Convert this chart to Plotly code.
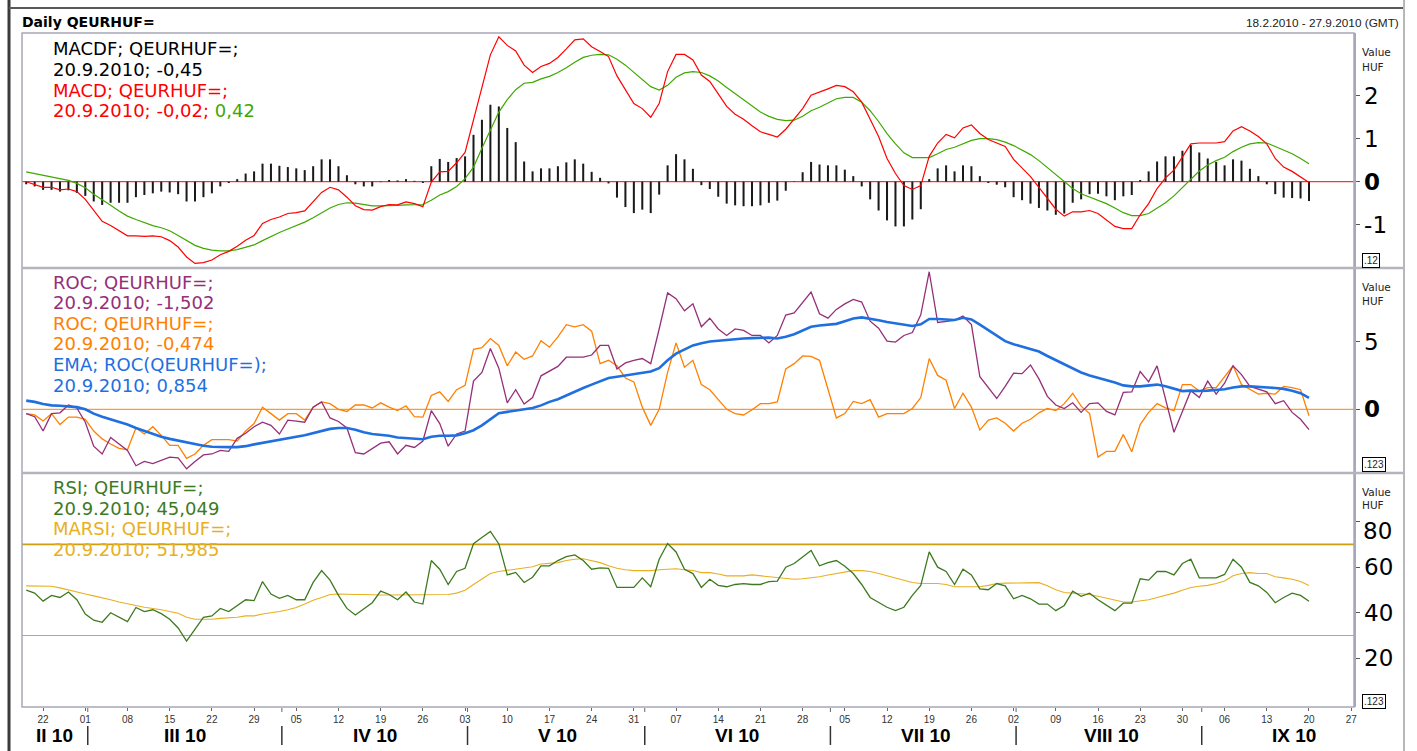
import pandas as pd
import plotly.graph_objects as go

# ---------------- data (trading days 18.2.2010 - 20.9.2010) ----------------
dates = pd.bdate_range("2010-02-18", "2010-09-20")

macdf = [-0.06, -0.11, -0.19, -0.19, -0.23, -0.20, -0.26, -0.33, -0.46, -0.54,
         -0.49, -0.49, -0.49, -0.36, -0.31, -0.27, -0.23, -0.25, -0.29, -0.46,
         -0.46, -0.36, -0.27, -0.11, -0.03, 0.06, 0.19, 0.24, 0.42, 0.42,
         0.37, 0.34, 0.31, 0.27, 0.36, 0.52, 0.52, 0.36, 0.15, -0.06,
         -0.11, -0.11, -0.01, 0.04, 0.03, 0.06, 0.02, -0.03, 0.36, 0.53,
         0.46, 0.55, 0.59, 1.09, 1.44, 1.79, 1.75, 1.25, 0.92, 0.47,
         0.24, 0.31, 0.31, 0.36, 0.45, 0.52, 0.42, 0.23, 0.09, -0.04,
         -0.37, -0.59, -0.73, -0.65, -0.73, -0.30, 0.38, 0.64, 0.52, 0.30,
         -0.08, -0.17, -0.35, -0.51, -0.55, -0.57, -0.57, -0.55, -0.49, -0.44,
         -0.21, 0.01, 0.22, 0.46, 0.40, 0.38, 0.38, 0.28, 0.13, -0.11,
         -0.41, -0.67, -0.90, -1.04, -1.04, -0.88, -0.64, 0.06, 0.31, 0.38,
         0.24, 0.38, 0.36, 0.13, -0.03, -0.07, -0.13, -0.36, -0.43, -0.51,
         -0.61, -0.67, -0.77, -0.74, -0.49, -0.41, -0.29, -0.28, -0.34, -0.43,
         -0.34, -0.31, 0.04, 0.24, 0.47, 0.59, 0.59, 0.72, 0.85, 0.68,
         0.54, 0.46, 0.38, 0.52, 0.49, 0.30, 0.13, -0.06, -0.29, -0.37,
         -0.38, -0.39, -0.45]

macd = [0.00, -0.06, -0.13, -0.13, -0.19, -0.17, -0.23, -0.41, -0.67, -0.92,
        -1.02, -1.14, -1.26, -1.26, -1.27, -1.26, -1.28, -1.37, -1.52, -1.75,
        -1.90, -1.88, -1.82, -1.70, -1.62, -1.50, -1.36, -1.25, -0.97, -0.88,
        -0.82, -0.74, -0.72, -0.68, -0.47, -0.25, -0.13, -0.19, -0.36, -0.56,
        -0.65, -0.66, -0.58, -0.53, -0.54, -0.47, -0.51, -0.58, -0.01, 0.23,
        0.24, 0.44, 0.68, 1.43, 2.19, 2.95, 3.37, 3.17, 3.04, 2.71,
        2.54, 2.68, 2.75, 2.89, 3.09, 3.30, 3.32, 3.14, 3.03, 2.91,
        2.46, 2.13, 1.82, 1.70, 1.50, 1.82, 2.56, 2.96, 2.96, 2.83,
        2.48, 2.33, 2.03, 1.75, 1.57, 1.45, 1.30, 1.16, 1.10, 1.04,
        1.22, 1.45, 1.70, 2.01, 2.08, 2.16, 2.24, 2.21, 2.09, 1.85,
        1.45, 1.05, 0.54, 0.19, -0.09, -0.18, -0.09, 0.59, 0.90, 1.10,
        1.02, 1.25, 1.32, 1.12, 0.98, 0.90, 0.82, 0.52, 0.31, 0.12,
        -0.13, -0.38, -0.64, -0.80, -0.70, -0.70, -0.67, -0.74, -0.89, -1.04,
        -1.09, -1.09, -0.77, -0.51, -0.16, 0.09, 0.27, 0.57, 0.88, 0.90,
        0.90, 0.90, 0.93, 1.18, 1.28, 1.18, 1.05, 0.88, 0.54, 0.34,
        0.24, 0.12, -0.02]

signal = [0.23, 0.19, 0.15, 0.11, 0.07, 0.03, -0.04, -0.14, -0.29, -0.43,
          -0.55, -0.68, -0.80, -0.88, -0.95, -1.02, -1.07, -1.14, -1.25, -1.37,
          -1.48, -1.55, -1.59, -1.61, -1.61, -1.58, -1.53, -1.47, -1.37, -1.27,
          -1.18, -1.10, -1.02, -0.94, -0.84, -0.72, -0.61, -0.53, -0.49, -0.50,
          -0.53, -0.56, -0.56, -0.56, -0.55, -0.54, -0.54, -0.53, -0.43, -0.31,
          -0.23, -0.11, 0.07, 0.34, 0.78, 1.22, 1.62, 1.91, 2.14, 2.29,
          2.31, 2.39, 2.45, 2.54, 2.65, 2.78, 2.89, 2.94, 2.96, 2.95,
          2.85, 2.71, 2.54, 2.38, 2.21, 2.13, 2.24, 2.43, 2.53, 2.56,
          2.54, 2.46, 2.34, 2.19, 2.05, 1.91, 1.76, 1.62, 1.52, 1.45,
          1.42, 1.43, 1.52, 1.65, 1.73, 1.83, 1.93, 1.96, 1.96, 1.85,
          1.65, 1.40, 1.12, 0.88, 0.67, 0.56, 0.56, 0.56, 0.65, 0.75,
          0.80, 0.88, 0.96, 1.00, 1.00, 0.98, 0.92, 0.84, 0.74, 0.63,
          0.49, 0.33, 0.15, -0.01, -0.16, -0.28, -0.36, -0.43, -0.51, -0.61,
          -0.72, -0.79, -0.79, -0.74, -0.61, -0.49, -0.33, -0.13, 0.07, 0.25,
          0.39, 0.49, 0.57, 0.70, 0.80, 0.88, 0.91, 0.90, 0.82, 0.73,
          0.65, 0.54, 0.42]

roc_a = [-0.32, -0.55, -1.61, -0.32, -0.26, 0.32, 0.10, -0.96, -2.73, -3.31,
         -2.09, -2.57, -3.05, -4.18, -3.86, -4.02, -3.79, -3.54, -3.60, -4.41,
         -3.86, -3.38, -3.31, -3.05, -3.12, -2.15, -1.77, -1.29, -0.96, -1.19,
         -1.83, -0.80, -0.87, -0.96, 0.16, 0.55, -0.64, -0.90, -1.38, -3.22,
         -3.31, -2.89, -2.51, -2.41, -3.31, -2.67, -2.83, -2.35, -0.10, -1.06,
         -2.73, -1.83, -1.61, 2.09, 2.73, 4.50, 3.05, 0.48, 1.45, 0.39,
         0.87, 2.48, 2.83, 3.18, 3.86, 3.86, 3.86, 4.02, 4.73, 4.73,
         2.99, 3.44, 3.63, 3.76, 3.38, 5.95, 8.62, 8.20, 7.30, 7.81,
         6.11, 6.75, 5.95, 5.47, 5.95, 5.85, 5.47, 5.47, 4.92, 5.47,
         6.98, 7.14, 7.94, 8.68, 7.07, 6.75, 7.40, 7.81, 8.14, 7.94,
         6.53, 6.01, 5.05, 4.98, 5.47, 5.69, 7.00, 10.19, 6.43, 6.50,
         6.59, 6.91, 6.27, 2.41, 1.61, 0.80, 1.70, 2.67, 2.64, 3.28,
         2.25, 0.96, 0.32, 0.06, 0.48, -0.23, 0.42, 0.48, -0.16, -0.42,
         1.25, 1.29, 2.80, 2.03, 3.22, 0.80, -1.70, -0.16, 1.38, 0.87,
         2.09, 1.13, 1.93, 3.22, 2.57, 1.70, 1.51, 1.29, 0.42, 0.64,
         -0.23, -0.74, -1.502]

roc_b = [-0.32, -0.42, -0.87, -0.32, -1.13, -0.58, -0.58, -0.74, -1.61, -2.19,
         -2.57, -2.89, -2.99, -1.38, -1.83, -1.29, -1.93, -2.67, -2.67, -3.63,
         -3.31, -2.67, -2.25, -2.25, -2.25, -2.35, -1.61, -1.06, 0.16, -0.32,
         -0.80, -0.32, -0.32, -0.80, 0.16, 0.55, 0.42, 0.00, -0.16, 0.32,
         0.32, 0.10, 0.48, 0.16, -0.10, 0.26, -0.55, -0.58, 1.03, 1.29,
         0.58, 1.45, 1.77, 4.44, 4.57, 5.24, 4.73, 3.22, 4.24, 3.70,
         3.95, 5.08, 4.60, 5.37, 6.27, 6.11, 6.27, 5.79, 3.38, 3.63,
         3.22, 2.32, 2.03, 0.16, -1.19, 0.00, 2.73, 4.92, 3.12, 3.63,
         1.83, 1.45, 0.74, 0.00, -0.32, -0.42, -0.03, 0.42, 0.42, 0.55,
         2.99, 3.38, 3.95, 3.92, 3.63, 1.45, -0.64, -0.32, 0.58, 0.42,
         0.71, -0.58, -0.32, -0.32, -0.32, 0.06, 0.87, 3.76, 2.51, 2.15,
         0.06, 1.19, 0.16, -1.54, -0.80, -0.64, -1.03, -1.61, -1.03, -0.74,
         -0.26, 0.06, -0.10, 0.42, 1.19, 0.23, -0.32, -3.54, -3.12, -3.12,
         -1.86, -3.15, -1.13, -0.23, 0.42, 0.10, -0.10, 1.83, 1.83, 1.35,
         1.61, 1.61, 2.41, 3.22, 1.83, 1.51, 1.13, 1.19, 1.13, 1.70,
         1.61, 1.45, -0.474]

ema_roc = [0.64, 0.55, 0.39, 0.29, 0.26, 0.23, 0.16, 0.00, -0.32, -0.55,
           -0.74, -0.90, -1.13, -1.38, -1.61, -1.83, -2.03, -2.19, -2.32, -2.48,
           -2.60, -2.70, -2.77, -2.80, -2.80, -2.80, -2.73, -2.60, -2.48, -2.35,
           -2.25, -2.15, -2.03, -1.93, -1.77, -1.58, -1.45, -1.38, -1.38, -1.51,
           -1.70, -1.83, -1.90, -1.96, -2.09, -2.12, -2.15, -2.22, -2.03, -1.96,
           -1.96, -1.93, -1.77, -1.55, -1.19, -0.71, -0.29, -0.19, -0.10, 0.00,
           0.10, 0.29, 0.55, 0.74, 1.03, 1.35, 1.58, 1.83, 2.09, 2.32,
           2.41, 2.51, 2.57, 2.67, 2.80, 3.05, 3.63, 4.12, 4.41, 4.73,
           4.89, 5.02, 5.08, 5.14, 5.21, 5.24, 5.27, 5.31, 5.31, 5.24,
           5.37, 5.56, 5.85, 6.11, 6.21, 6.27, 6.33, 6.53, 6.72, 6.81,
           6.72, 6.59, 6.46, 6.37, 6.24, 6.17, 6.30, 6.69, 6.69, 6.66,
           6.62, 6.78, 6.66, 6.27, 5.88, 5.47, 5.05, 4.82, 4.63, 4.47,
           4.28, 3.95, 3.63, 3.31, 3.02, 2.73, 2.51, 2.35, 2.19, 1.99,
           1.77, 1.70, 1.70, 1.77, 1.83, 1.70, 1.51, 1.35, 1.38, 1.35,
           1.38, 1.45, 1.48, 1.61, 1.70, 1.70, 1.67, 1.61, 1.58, 1.51,
           1.38, 1.19, 0.854]

rsi = [49.9, 48.6, 45.1, 47.6, 46.7, 49.1, 45.7, 39.4, 36.7, 35.8,
       40.0, 37.9, 36.1, 42.3, 40.5, 41.3, 39.6, 37.1, 33.3, 27.5,
       32.7, 38.0, 38.6, 41.9, 40.5, 43.2, 45.7, 45.3, 53.7, 48.2,
       46.3, 47.6, 45.7, 45.7, 53.3, 58.5, 54.3, 47.6, 41.9, 39.0,
       41.9, 44.4, 49.5, 48.0, 45.7, 49.1, 44.7, 43.8, 62.9, 59.1,
       52.4, 58.1, 59.5, 70.3, 73.0, 75.7, 70.2, 56.6, 57.7, 53.3,
       55.6, 60.6, 60.6, 62.9, 64.6, 65.4, 62.9, 59.1, 59.7, 59.5,
       51.1, 51.1, 51.1, 55.3, 51.4, 63.5, 70.4, 66.7, 59.1, 57.2,
       51.1, 54.7, 52.0, 51.4, 52.4, 52.8, 52.4, 52.4, 53.7, 53.9,
       60.0, 61.6, 64.4, 67.3, 60.6, 62.0, 62.9, 60.4, 57.2, 52.4,
       46.7, 44.4, 42.4, 40.9, 42.4, 47.6, 52.0, 66.7, 60.0, 58.1,
       52.4, 59.1, 56.6, 50.5, 50.1, 52.8, 51.8, 46.1, 47.6, 46.1,
       43.8, 43.8, 40.9, 43.2, 49.5, 47.2, 48.6, 45.7, 43.2, 40.9,
       44.2, 44.2, 54.9, 54.3, 58.1, 58.1, 56.6, 61.6, 63.5, 55.3,
       55.3, 55.3, 56.8, 63.5, 60.0, 53.3, 51.8, 48.9, 44.4, 46.7,
       48.6, 47.6, 45.049]

marsi = [51.8, 51.8, 51.8, 51.6, 50.9, 49.9, 48.9, 48.2, 47.4, 46.7,
         45.7, 44.7, 43.8, 43.2, 42.4, 41.9, 41.3, 40.5, 39.8, 38.0,
         37.1, 37.1, 37.1, 37.5, 37.7, 38.0, 38.6, 38.6, 39.4, 39.8,
         40.5, 41.3, 42.3, 43.8, 45.5, 46.7, 48.0, 48.2, 48.0, 48.0,
         48.0, 47.8, 47.8, 47.8, 47.8, 47.8, 47.8, 47.8, 48.0, 48.0,
         48.0, 48.6, 49.9, 52.4, 54.7, 57.2, 58.1, 58.7, 59.3, 59.7,
         60.2, 61.4, 61.6, 62.0, 62.9, 63.5, 63.7, 62.9, 62.0, 60.6,
         59.5, 58.9, 58.5, 58.5, 58.5, 58.9, 59.1, 59.3, 58.9, 58.5,
         57.6, 57.6, 57.0, 56.2, 56.2, 56.2, 56.6, 56.2, 56.0, 55.6,
         55.1, 54.7, 54.9, 55.3, 55.8, 56.6, 57.2, 57.7, 58.5, 58.5,
         58.1, 57.2, 56.2, 55.4, 54.3, 53.3, 52.8, 52.8, 52.8, 52.4,
         51.4, 51.4, 51.4, 51.4, 52.0, 52.8, 53.0, 53.0, 53.2, 53.3,
         53.2, 51.8, 50.1, 48.9, 48.6, 48.2, 48.0, 47.2, 46.3, 45.3,
         44.7, 44.7, 45.3, 45.7, 46.7, 47.6, 48.6, 49.9, 51.1, 51.6,
         52.0, 52.8, 53.9, 56.2, 57.2, 57.6, 57.2, 57.2, 55.8, 55.3,
         54.7, 53.7, 51.985]

for s in (macdf, macd, signal, roc_a, roc_b, ema_roc, rsi, marsi):
    assert len(s) == len(dates), len(s)

# x-axis ticks (Mondays) and month row
tick_dates = pd.date_range("2010-02-22", "2010-09-27", freq="7D")
tick_labels = ["22", "01", "08", "15", "22", "29", "05", "12", "19", "26",
               "03", "10", "17", "24", "31", "07", "14", "21", "28", "05",
               "12", "19", "26", "02", "09", "16", "23", "30", "06", "13",
               "20", "27"]
month_labels = ["II 10", "III 10", "IV 10", "V 10", "VI 10", "VII 10", "VIII 10", "IX 10"]
month_starts = ["2010-03-01", "2010-04-01", "2010-05-03", "2010-06-01",
                "2010-07-01", "2010-08-02", "2010-09-01"]
last_day = "20.9.2010"

# ---------------- styling ----------------
FONT = "Liberation Sans, Arial, sans-serif"
WIDE = "DejaVu Sans, Verdana, sans-serif"
C_BLACK = "#000000"
C_RED = "#ff0000"
C_SIG = "#3fa800"
C_PURP = "#952f78"
C_ORNG = "#ff8000"
C_BLUE = "#1f6fe0"
C_RSI = "#3d7a1f"
C_MARSI = "#e8b020"
C_GOLD = "#cc9f10"
C_FRAME = "#a8a8b8"

W, H = 1417, 751
L, R, T, B = 22, 1354, 33, 707


def px_x(px):
    return (px - L) / (R - L)


def px_y(py):
    return (B - py) / (B - T)


def fmt(v, nd):
    return f"{v:.{nd}f}".replace(".", ",")


fig = go.Figure()

# panel 1: MACD
fig.add_trace(go.Bar(x=dates, y=macdf, width=0.24 * 86400000,
                     marker=dict(color="#1a1a1a", line=dict(width=0)),
                     xaxis="x", yaxis="y"))
fig.add_trace(go.Scatter(x=dates, y=signal, mode="lines",
                         line=dict(color=C_SIG, width=1.2), xaxis="x", yaxis="y"))
fig.add_trace(go.Scatter(x=dates, y=macd, mode="lines",
                         line=dict(color=C_RED, width=1.2), xaxis="x", yaxis="y"))
# panel 2: ROC
fig.add_trace(go.Scatter(x=dates, y=roc_b, mode="lines",
                         line=dict(color=C_ORNG, width=1.3), xaxis="x", yaxis="y2"))
fig.add_trace(go.Scatter(x=dates, y=roc_a, mode="lines",
                         line=dict(color=C_PURP, width=1.3), xaxis="x", yaxis="y2"))
fig.add_trace(go.Scatter(x=dates, y=ema_roc, mode="lines",
                         line=dict(color=C_BLUE, width=2.6), xaxis="x", yaxis="y2"))
# panel 3: RSI
fig.add_trace(go.Scatter(x=dates, y=marsi, mode="lines",
                         line=dict(color=C_MARSI, width=1.1), xaxis="x", yaxis="y3"))
fig.add_trace(go.Scatter(x=dates, y=rsi, mode="lines",
                         line=dict(color=C_RSI, width=1.3), xaxis="x", yaxis="y3"))

# last-value diamonds just right of the value axis
mark_x = "2010-09-28"
for ys, cols, ax in (([signal[-1], macd[-1], macdf[-1]], [C_SIG, C_RED, C_BLACK], "y"),
                     ([ema_roc[-1], roc_b[-1], roc_a[-1]], [C_BLUE, C_ORNG, C_PURP], "y2"),
                     ([marsi[-1], rsi[-1]], [C_MARSI, C_RSI], "y3")):
    fig.add_trace(go.Scatter(x=[mark_x] * len(ys), y=ys, mode="markers",
                             marker=dict(symbol="diamond", size=9, color=cols),
                             cliponaxis=False, xaxis="x", yaxis=ax))

d1 = [px_y(268), 1.0]
d2 = [px_y(473), px_y(268)]
d3 = [0.0, px_y(473)]


def yax(domain, rng, tv, tt):
    return dict(domain=domain, range=rng, side="right", anchor="x",
                tickvals=tv, ticktext=tt, ticks="outside", ticklen=4,
                tickcolor="#555555", tickwidth=1,
                tickfont=dict(family=WIDE, size=23, color="#000000"),
                showgrid=False, zeroline=False, showline=True,
                linecolor=C_FRAME, linewidth=1.5, fixedrange=True)


shapes = []
# reference lines
shapes.append(dict(type="line", xref="paper", yref="y", x0=0, x1=1, y0=0, y1=0,
                   line=dict(color=C_RED, width=1), layer="below"))
shapes.append(dict(type="line", xref="paper", yref="y2", x0=0, x1=1, y0=0, y1=0,
                   line=dict(color=C_ORNG, width=1), layer="below"))
shapes.append(dict(type="line", xref="paper", yref="y3", x0=0, x1=1, y0=70, y1=70,
                   line=dict(color=C_GOLD, width=1.6), layer="below"))
shapes.append(dict(type="line", xref="paper", yref="y3", x0=0, x1=1, y0=30, y1=30,
                   line=dict(color="#d9a820", width=1.2), layer="below"))
# plot frame and separators
shapes.append(dict(type="rect", xref="paper", yref="paper", x0=0, x1=1, y0=0, y1=1,
                   line=dict(color=C_FRAME, width=1.5)))
for yy in (px_y(268), px_y(473)):
    shapes.append(dict(type="line", xref="paper", yref="paper", x0=0, x1=px_x(1404),
                       y0=yy, y1=yy, line=dict(color="#b4b4bc", width=2.5)))
# outer window frame
shapes.append(dict(type="line", xref="paper", yref="paper", x0=px_x(9), x1=px_x(9),
                   y0=px_y(0), y1=px_y(751), line=dict(color="#3a3a3a", width=3)))
shapes.append(dict(type="line", xref="paper", yref="paper", x0=px_x(9), x1=px_x(1404),
                   y0=px_y(8), y1=px_y(8), line=dict(color="#5a5a5a", width=2)))
shapes.append(dict(type="line", xref="paper", yref="paper", x0=px_x(1404), x1=px_x(1404),
                   y0=px_y(0), y1=px_y(751), line=dict(color="#b8b8b8", width=2)))
# month separators and month ticks
for ms in month_starts:
    xs = pd.Timestamp(ms) + pd.Timedelta(hours=7)
    shapes.append(dict(type="line", xref="x", yref="paper", x0=xs, x1=xs,
                       y0=px_y(726), y1=px_y(745), line=dict(color="#333333", width=1.5)))
    shapes.append(dict(type="line", xref="x", yref="paper", x0=xs, x1=xs,
                       y0=px_y(708), y1=px_y(712), line=dict(color="#666666", width=1)))

ann = []


def text(x, y, s, color="#000000", size=17, xanchor="left", bold=False,
         family=FONT, **kw):
    if bold:
        s = f"<b>{s}</b>"
    d = dict(xref="paper", yref="paper", x=x, y=y, text=s, showarrow=False,
             xanchor=xanchor, yanchor="middle",
             font=dict(family=family, size=size, color=color))
    d.update(kw)
    ann.append(d)


# header
text(px_x(20), px_y(22), "Daily QEURHUF=", size=14, bold=True, family=WIDE)
text(px_x(1401), px_y(23), "18.2.2010 - 27.9.2010 (GMT)", size=11.8, xanchor="right",
     color="#222222")

# legend texts
lx = px_x(51)
p1 = [("MACDF; QEURHUF=;", C_BLACK),
      (f"{last_day}; {fmt(macdf[-1], 2)}", C_BLACK),
      ("MACD; QEURHUF=;", C_RED),
      (f"{last_day}; {fmt(macd[-1], 2)}; <span style='color:{C_SIG}'>{fmt(signal[-1], 2)}</span>", C_RED)]
for k, (s, c) in enumerate(p1):
    text(lx, px_y(48.5 + 20.8 * k), s, color=c, size=18, family=WIDE)
p2 = [("ROC; QEURHUF=;", C_PURP),
      (f"{last_day}; {fmt(roc_a[-1], 3)}", C_PURP),
      ("ROC; QEURHUF=;", C_ORNG),
      (f"{last_day}; {fmt(roc_b[-1], 3)}", C_ORNG),
      ("EMA; ROC(QEURHUF=);", C_BLUE),
      (f"{last_day}; {fmt(ema_roc[-1], 3)}", C_BLUE)]
for k, (s, c) in enumerate(p2):
    text(lx, px_y(282 + 20.6 * k), s, color=c, size=18, family=WIDE)
p3 = [("RSI; QEURHUF=;", C_RSI),
      (f"{last_day}; {fmt(rsi[-1], 3)}", C_RSI),
      ("MARSI; QEURHUF=;", C_MARSI),
      (f"{last_day}; {fmt(marsi[-1], 3)}", C_MARSI)]
for k, (s, c) in enumerate(p3):
    text(lx, px_y(488 + 20.4 * k), s, color=c, size=18, family=WIDE)

# axis unit labels and scale boxes
for yv, yh in ((52, 67), (287, 301), (492, 505)):
    text(px_x(1360), px_y(yv), "Value", size=10.5, color="#222222", family=WIDE)
    text(px_x(1360), px_y(yh), "HUF", size=10.5, color="#222222", family=WIDE)
for yb, s in ((260, ".12"), (465, ".123"), (701, ".123")):
    text(px_x(1362), px_y(yb), s, size=10, color="#222222",
         bordercolor="#000000", borderwidth=1, borderpad=1, bgcolor="#ffffff")
# the top RSI label sits slightly below its tick
ann.append(dict(xref="paper", yref="y3", x=px_x(1361), y=75.9, text="80",
                showarrow=False, xanchor="left", yanchor="middle",
                font=dict(family=WIDE, size=23, color="#000000")))

# month labels
for lab, cx in zip(month_labels, [54, 185, 375, 557, 737, 926, 1111, 1294]):
    text(px_x(cx), px_y(735), lab, size=19, xanchor="center", bold=True)

fig.update_layout(
    width=W, height=H,
    margin=dict(l=L, r=W - R, t=T, b=H - B, pad=0),
    paper_bgcolor="#ffffff", plot_bgcolor="#ffffff",
    showlegend=False, hovermode=False, barmode="overlay",
    font=dict(family=FONT),
    xaxis=dict(type="date", anchor="y3", domain=[0, 1],
               range=["2010-02-17 12:00", "2010-09-27 08:00"],
               rangebreaks=[dict(bounds=["sat", "mon"])],
               tickvals=tick_dates, ticktext=tick_labels,
               ticks="outside", ticklen=3, tickcolor="#666666",
               tickfont=dict(family=FONT, size=10, color="#333333"),
               showgrid=False, zeroline=False, showline=False, fixedrange=True),
    yaxis=yax(d1, [-2.007, 3.458], [-1, 0, 1, 2], ["-1", "<b>0</b>", "1", "2"]),
    yaxis2=yax(d2, [-4.719, 10.467], [0, 5], ["<b>0</b>", "5"]),
    yaxis3=yax(d3, [-1.41, 101.36], [20, 40, 60, 80], ["20", "40", "60", ""]),
    shapes=shapes,
    annotations=ann,
)

fig.write_html("out.html", config={"displayModeBar": False, "staticPlot": True},
               post_script="document.body.style.margin='0px';"
                           "document.body.style.overflow='hidden';")
